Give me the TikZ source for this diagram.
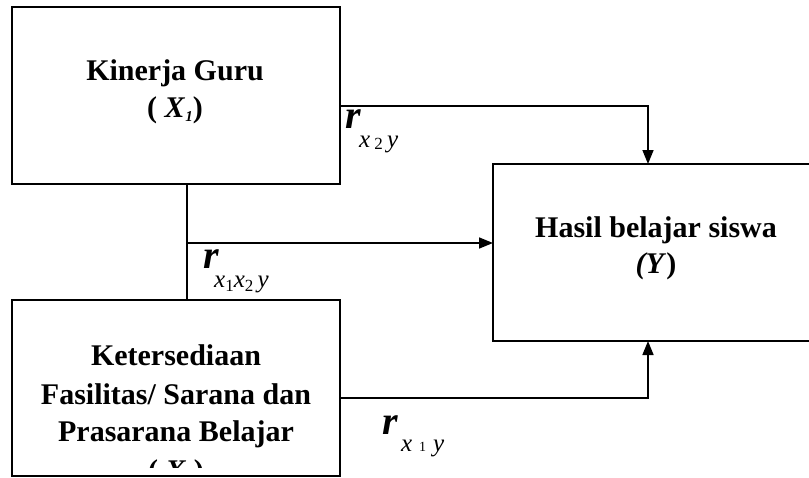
\documentclass[tikz,border=0pt]{standalone}
\usepackage{fontspec}
\setmainfont{Liberation Serif}
\usetikzlibrary{arrows.meta}
\newcommand{\sbd}[1]{\raisebox{-4pt}{\fontsize{15}{15}\selectfont #1}}
\newcommand{\dg}[2]{\raisebox{#1}{\fontsize{17}{17}\selectfont\upshape #2}}
\begin{document}
\begin{tikzpicture}[x=1pt,y=-1pt,
  box/.style={draw,line width=1.6pt,inner sep=0,outer sep=0},
  ln/.style={line width=1.6pt},
  arr/.style={line width=1.6pt,-{Triangle[width=11pt,length=14pt]}},
  tx/.style={anchor=base,inner sep=0,font=\fontsize{30}{30}\selectfont\bfseries},
  rr/.style={anchor=base west,inner sep=0,font=\fontsize{40}{40}\selectfont\bfseries\itshape},
  sb/.style={anchor=base west,inner sep=0,font=\fontsize{25}{25}\selectfont\itshape}]
\clip (0,0) rectangle (809,477);
\fill[white] (0,0) rectangle (809,477);
% boxes
\node[box,minimum width=328pt,minimum height=177pt] (g) at (176,95.5) {};
\node[box,minimum width=328pt,minimum height=176pt] (f) at (176,388) {};
\node[box,minimum width=340pt,minimum height=177pt] (y) at (663,252.5) {};
% texts
\node[tx] (g1) at (175,80) {Kinerja Guru};
\node[tx] (g2) at (175,117) {( \textit{X}\sbd{\textit{1}})};
\node[tx] (f1) at (176,365) {Ketersediaan};
\node[tx] (f2) at (176,404) {Fasilitas/ Sarana dan};
\node[tx] (f3) at (176,441) {Prasarana Belajar};
\begin{scope}
\clip (12,300) rectangle (340,467);
\node[tx] (f4) at (176,480) {( \textit{X}\sbd{\textit{2}})};
\end{scope}
\node[tx] (y1) at (656,237) {Hasil belajar siswa};
\node[tx] (y2) at (656,273) {\textit{(Y})};
% connectors
\coordinate (c1) at (648,106);
\coordinate (c2) at (187,243);
\coordinate (c3) at (648,398);
\draw[arr] (g.east |- c1) -- (c1) -- (c1 |- y.north);
\draw[ln] (g.south -| c2) -- (f.north -| c2);
\draw[arr] (c2) -- (c2 -| y.west);
\draw[arr] (f.east |- c3) -- (c3) -- (c3 |- y.south);
% labels
\node[rr] (r1) at (345,128) {r};
\node[sb] (s1) at (359,147) {x\,\dg{-2pt}{2}\,y};
\node[rr] (r2) at (203,268) {r};
\node[sb] (s2) at (214,287) {x\dg{-4pt}{1}x\dg{-4pt}{2}\,y};
\node[rr] (r3) at (382,434) {r};
\node[sb] (s3) at (401,451) {x\;\dg{0pt}{\fontsize{14}{14}\selectfont 1}\;y};
\end{tikzpicture}
\end{document}
